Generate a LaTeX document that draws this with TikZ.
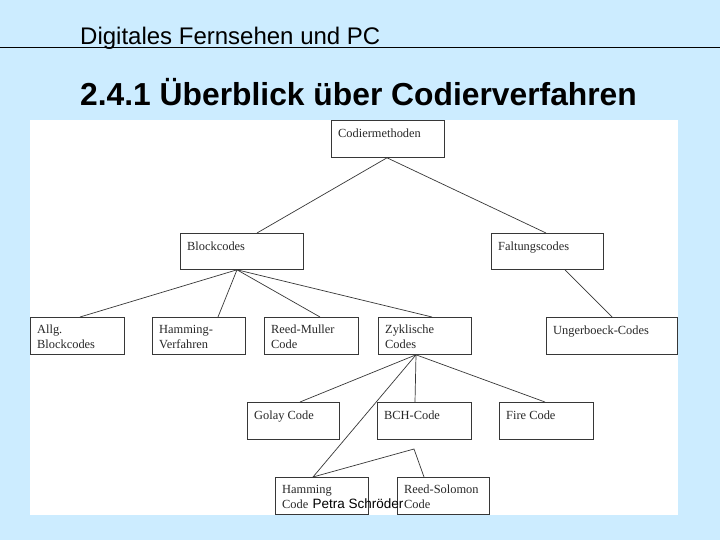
\documentclass[tikz,border=0pt]{standalone}
\usepackage{fontspec}
\setmainfont{Liberation Sans}
\newfontfamily\boxfont{Liberation Serif}
\definecolor{bgblue}{RGB}{204,236,255}
\definecolor{boxline}{RGB}{55,55,55}
\definecolor{boxtext}{RGB}{40,40,40}
\begin{document}
\begin{tikzpicture}[x=1pt,y=-1pt,
  box/.style={draw=boxline,line width=0.8pt,anchor=north west,inner sep=0pt,
    minimum width=#1,minimum height=37pt},
  lbl/.style={anchor=north west,align=left,inner xsep=7pt,inner ysep=8pt,
    text=boxtext,font=\boxfont\fontsize{12.4}{15}\selectfont,
    execute at begin node={\rule{0pt}{9pt}}},
  conn/.style={draw=boxline,line width=0.7pt}]
\useasboundingbox (0,0) rectangle (720,540);
\fill[bgblue] (0,0) rectangle (720,540);
\fill[white] (30,120) rectangle (678,515);
% header
\node[anchor=base west,inner sep=0pt,font=\fontsize{24}{28}\selectfont] (hdr) at (80,45) {Digitales Fernsehen und PC};
\draw[line width=0.9pt] (0,47.5) -- (720,47.5);
\node[anchor=base west,inner sep=0pt,font=\bfseries\fontsize{31.8}{36}\selectfont] (ttl) at (80,106) {2.4.1 Überblick über Codierverfahren};
% boxes
\node[box=113pt,label={[lbl]north west:Codiermethoden}] (cm) at (331,120) {};
\node[box=123pt,minimum height=36pt,label={[lbl]north west:Blockcodes}] (bc) at (180,233) {};
\node[box=112pt,minimum height=36pt,label={[lbl]north west:Faltungscodes}] (fc) at (491,233) {};
\node[box=94pt,label={[lbl]north west:Allg.\\Blockcodes}] (al) at (30,317) {};
\node[box=93pt,label={[lbl]north west:Hamming-\\Verfahren}] (hv) at (152,317) {};
\node[box=94pt,label={[lbl]north west:Reed-Muller\\Code}] (rm) at (264,317) {};
\node[box=93pt,label={[lbl]north west:Zyklische\\Codes}] (zy) at (378,317) {};
\node[box=131pt,label={[lbl]north west:Ungerboeck-Codes}] (ug) at (546,317) {};
\node[box=92pt,label={[lbl]north west:Golay Code}] (go) at (247,402) {};
\node[box=94pt,label={[lbl]north west:BCH-Code}] (bch) at (377,402) {};
\node[box=94pt,label={[lbl]north west:Fire Code}] (fi) at (499,402) {};
\node[box=93pt,label={[lbl]north west:Hamming\\Code}] (hc) at (275,477) {};
\node[box=92pt,label={[lbl]north west:Reed-Solomon\\Code}] (rs) at (397,477) {};
\coordinate (kink) at (414,449);
% connectors
\draw[conn] ([xshift=56pt]cm.south west) -- ([xshift=77pt]bc.north west);
\draw[conn] ([xshift=56pt]cm.south west) -- ([xshift=55pt]fc.north west);
\draw[conn] ([xshift=57pt]bc.south west) -- ([xshift=50pt]al.north west);
\draw[conn] ([xshift=57pt]bc.south west) -- ([xshift=66pt]hv.north west);
\draw[conn] ([xshift=57pt]bc.south west) -- ([xshift=56pt]rm.north west);
\draw[conn] ([xshift=57pt]bc.south west) -- ([xshift=54pt]zy.north west);
\draw[conn] ([xshift=74pt]fc.south west) -- ([xshift=66pt]ug.north west);
\draw[conn] ([xshift=38pt]zy.south west) -- ([xshift=53pt]go.north west);
\draw[conn] ([xshift=38pt]zy.south west) -- ([xshift=38pt]bch.north west);
\draw[conn] ([xshift=38pt]zy.south west) -- ([xshift=46pt]fi.north west);
\draw[conn] ([xshift=38pt]zy.south west) -- ([xshift=38pt]hc.north west);
\draw[conn] ([xshift=38pt]hc.north west) -- (kink) -- ([xshift=27pt]rs.north west);
% footer
\node[anchor=base,inner sep=0pt,font=\fontsize{13.5}{16}\selectfont] (ftr) at (358,508) {Petra Schröder};
\end{tikzpicture}
\end{document}
